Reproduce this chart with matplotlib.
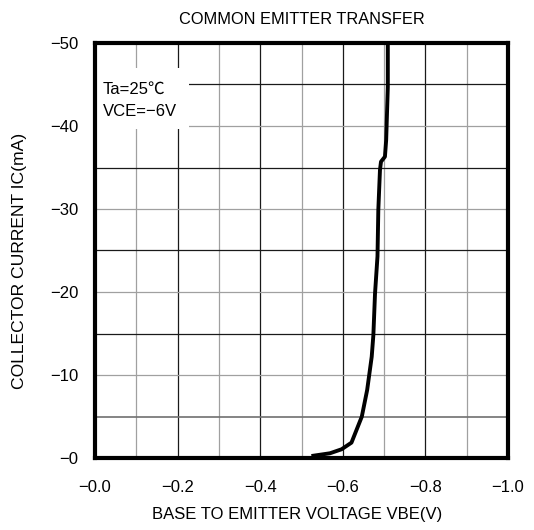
import matplotlib
matplotlib.use("Agg")
import matplotlib.pyplot as plt
from matplotlib.patches import Rectangle
from matplotlib.ticker import FixedLocator, FixedFormatter

plt.rcParams['font.family'] = ['Liberation Sans', 'Noto Sans CJK JP', 'DejaVu Sans']

# Data
vbe = [-0.524, -0.569, -0.597, -0.621, -0.646, -0.659, -0.670, -0.674, -0.678,
       -0.684, -0.686, -0.690, -0.6925, -0.702, -0.705, -0.706, -0.709, -0.709]
ic = [-0.24, -0.57, -1.05, -1.85, -4.98, -8.2, -12.2, -14.8, -19.8,
      -24.3, -29.9, -34.7, -35.7, -36.3, -38.3, -39.9, -44.7, -50.0]

x_ticks = [0.0, -0.2, -0.4, -0.6, -0.8, -1.0]
x_labels = ["\u22120.0", "\u22120.2", "\u22120.4", "\u22120.6", "\u22120.8", "\u22121.0"]
x_minor = [-0.1, -0.3, -0.5, -0.7, -0.9]
y_ticks = [0, -10, -20, -30, -40, -50]
y_labels = ["\u22120", "\u221210", "\u221220", "\u221230", "\u221240", "\u221250"]
y_minor = [-15, -25, -35, -45]
y_extra = -5

title = "COMMON EMITTER TRANSFER"
xlabel = "BASE TO EMITTER VOLTAGE VBE(V)"
ylabel = "COLLECTOR CURRENT IC(mA)"
note = "Ta=25\u2103\nVCE=\u22126V"

fig = plt.figure(figsize=(5.34, 5.30), dpi=100)
ax = fig.add_axes([95/534, 1-458/530, 413/534, 415/530])

ax.set_xlim(0, -1.0)
ax.set_ylim(0, -50)

ax.xaxis.set_major_locator(FixedLocator(x_ticks))
ax.xaxis.set_major_formatter(FixedFormatter(x_labels))
ax.xaxis.set_minor_locator(FixedLocator(x_minor))
ax.yaxis.set_major_locator(FixedLocator(y_ticks))
ax.yaxis.set_major_formatter(FixedFormatter(y_labels))
ax.yaxis.set_minor_locator(FixedLocator(y_minor))

ax.set_axisbelow(True)
ax.xaxis.grid(True, which='major', color='#1a1a1a', lw=0.9)
ax.xaxis.grid(True, which='minor', color='#a0a0a0', lw=0.9)
ax.yaxis.grid(True, which='major', color='#a0a0a0', lw=0.9)
ax.yaxis.grid(True, which='minor', color='#1a1a1a', lw=0.9)
ax.axhline(y_extra, color='#707070', lw=1.2, zorder=0.6)

ax.tick_params(which='both', length=0)
ax.tick_params(axis='x', pad=16, labelsize=12)
ax.tick_params(axis='y', pad=12, labelsize=12)

for s in ax.spines.values():
    s.set_linewidth(3.0)
    s.set_color('black')
    s.set_zorder(5)

# white box behind the condition text
ax.add_patch(Rectangle((0, (458-129)/415), 94/413, 61/415, transform=ax.transAxes,
                       facecolor='white', edgecolor='none', zorder=1))
ax.text(8/413, (458-100)/415, note, transform=ax.transAxes, fontsize=12,
        va='center', ha='left', linespacing=1.6, zorder=2)

ax.plot(vbe, ic, color='black', lw=2.8, zorder=3, solid_capstyle='butt')

ax.set_title(title, fontsize=11.8, pad=14)
ax.set_xlabel(xlabel, fontsize=12)
ax.set_ylabel(ylabel, fontsize=12.6)
ax.xaxis.set_label_coords((297 - 95) / 413, -(515 - 458) / 415)
ax.yaxis.set_label_coords((20 - 95) / 413, (458 - 261) / 415)
ax.xaxis.label.set_va('center')
ax.yaxis.label.set_va('center')

fig.savefig("out.png", dpi=100)
